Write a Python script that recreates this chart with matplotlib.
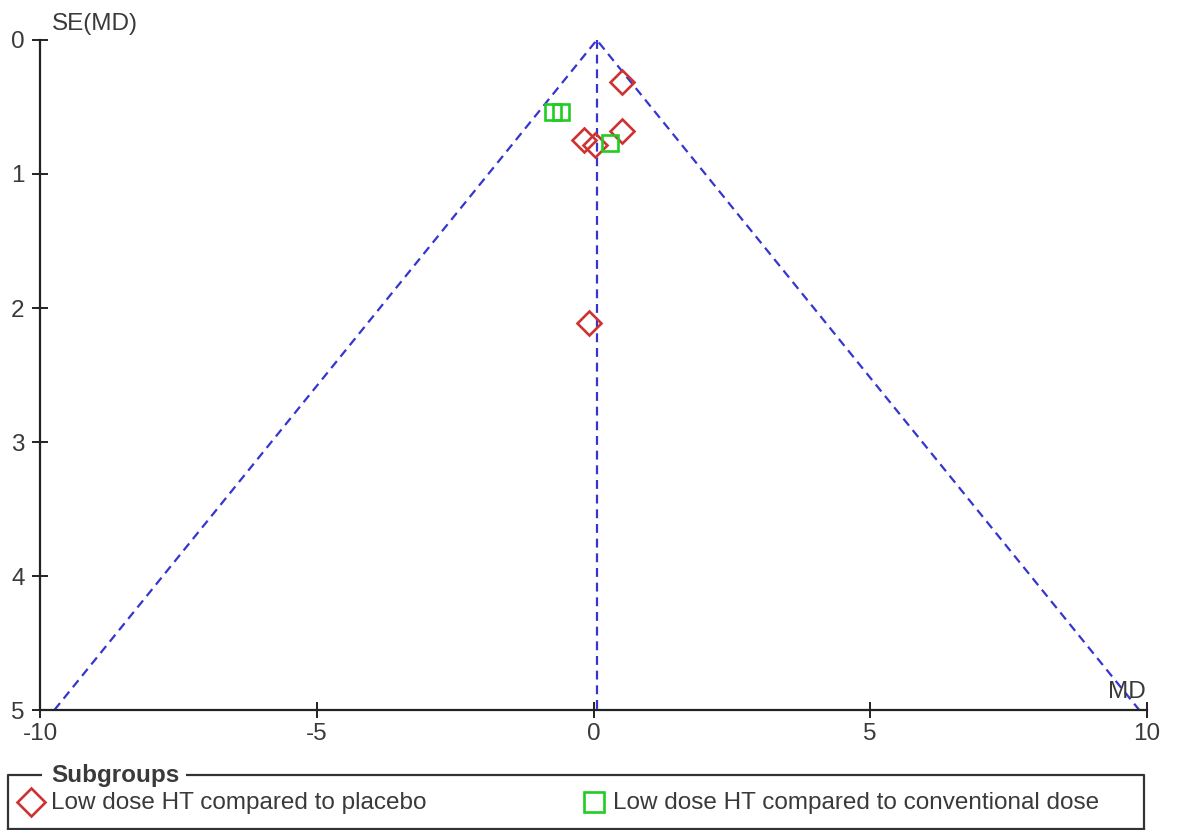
import matplotlib
matplotlib.use("Agg")
import matplotlib.pyplot as plt

plt.rcParams['font.family'] = ['Liberation Sans', 'DejaVu Sans']

# study estimates (MD, SE)
placebo_md = [0.51, 0.51, -0.18, 0.03, -0.09]
placebo_se = [0.31, 0.68, 0.75, 0.78, 2.11]
conv_md = [-0.73, -0.59, 0.30]
conv_se = [0.54, 0.535, 0.77]

pooled_md = 0.06
se_max = 5
x_ticks = [-10, -5, 0, 5, 10]
y_ticks = [0, 1, 2, 3, 4, 5]
group_labels = ["Low dose HT compared to placebo",
                "Low dose HT compared to conventional dose"]

W, H = 1178, 830
fig = plt.figure(figsize=(W / 100, H / 100), dpi=100)
ax = fig.add_axes([40 / W, 1 - 710 / H, 1107 / W, 670 / H])

text_col = '#3a3a3a'
red = '#cc3333'
green = '#22cc22'
blue = '#3535d0'
fs = 17.5

# funnel
ax.plot([pooled_md - 1.96 * se_max, pooled_md, pooled_md + 1.96 * se_max],
        [se_max, 0, se_max], color=blue, lw=1.6, ls=(0, (4, 2.6)), zorder=1)
ax.plot([pooled_md, pooled_md], [0, se_max], color=blue, lw=1.6,
        ls=(0, (4, 2.6)), zorder=1)

ax.plot(placebo_md, placebo_se, ls='none', marker='D', ms=12.5, mfc='none',
        mec=red, mew=1.9, zorder=3)
ax.plot(conv_md, conv_se, ls='none', marker='s', ms=11, mfc='none',
        mec=green, mew=1.9, zorder=3)

ax.set_xlim(-10, 10)
ax.set_ylim(5, 0)
ax.set_xticks(x_ticks)
ax.set_yticks(y_ticks)
ax.set_xticklabels([str(v) for v in x_ticks])
ax.set_yticklabels([str(v) for v in y_ticks])
for s in ['top', 'right']:
    ax.spines[s].set_visible(False)
for s in ['left', 'bottom']:
    ax.spines[s].set_linewidth(1.6)
    ax.spines[s].set_color('#222222')
ax.tick_params(direction='inout', length=12, width=1.4, color='#222222',
               labelsize=fs, labelcolor=text_col)
ax.tick_params(axis='x', pad=3)
ax.tick_params(axis='y', pad=5)
ax.patch.set_alpha(0)

fig.text(52 / W, 1 - 24 / H, "SE(MD)", fontsize=fs, color=text_col,
         ha='left', va='center')
fig.text(1146 / W, 1 - 692 / H, "MD", fontsize=fs, color=text_col,
         ha='right', va='center')

# legend box drawn in pixel space
lax = fig.add_axes([0, 0, 1, 1], zorder=-1)
lax.set_xlim(0, W)
lax.set_ylim(H, 0)
lax.axis('off')
box_col = '#333333'
lax.plot([42, 8, 8], [775, 775, 829], color=box_col, lw=1.6, solid_capstyle='butt')
lax.plot([186, 1144, 1144], [775, 775, 829], color=box_col, lw=1.6, solid_capstyle='butt')
lax.plot([8, 1144], [829, 829], color=box_col, lw=1.6)
lax.text(51, 775, "Subgroups", fontsize=fs, fontweight='bold', color=text_col,
         ha='left', va='center')
lax.plot([31], [802], marker='D', ms=14, mfc='none', mec=red, mew=1.9)
lax.text(51, 803, group_labels[0], fontsize=fs, color=text_col,
         ha='left', va='center')
lax.plot([594], [802], marker='s', ms=14, mfc='none', mec=green, mew=1.9)
lax.text(613, 803, group_labels[1], fontsize=fs, color=text_col,
         ha='left', va='center')

fig.savefig("out.png", dpi=100)
